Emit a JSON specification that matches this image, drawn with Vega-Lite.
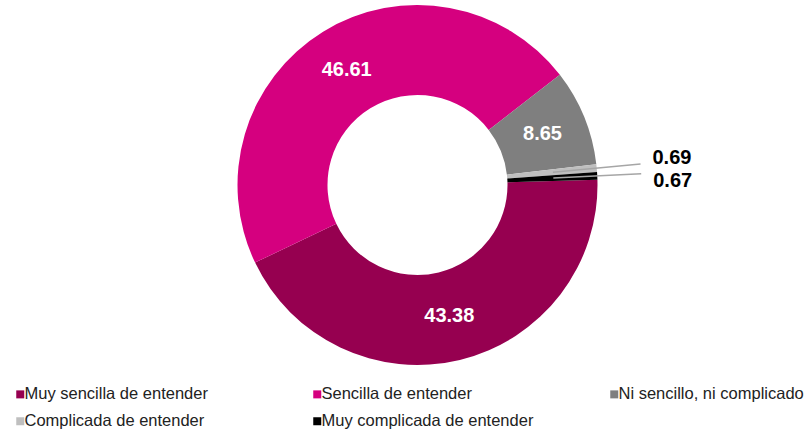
{
  "$schema": "https://vega.github.io/schema/vega-lite/v6.json",
  "width": 785,
  "height": 370,
  "autosize": "none",
  "padding": {"left": 25, "top": 0, "right": 0, "bottom": 61},
  "background": "white",
  "config": {
    "view": {"stroke": null},
    "font": "Liberation Sans",
    "legend": {
      "orient": "none",
      "direction": "horizontal",
      "legendX": -13,
      "legendY": 386,
      "columns": 3,
      "gridAlign": "all",
      "columnPadding": 72,
      "rowPadding": 10,
      "symbolType": "square",
      "symbolSize": 64,
      "symbolStrokeWidth": 0,
      "labelFont": "Liberation Sans",
      "labelFontSize": 16.5,
      "labelColor": "#222222",
      "labelOffset": -4,
      "labelLimit": 400,
      "padding": 0,
      "title": null
    }
  },
  "data": {
    "values": [
      {"cat": "Muy sencilla de entender", "valor": 43.38, "orden": 1},
      {"cat": "Sencilla de entender", "valor": 46.61, "orden": 2},
      {"cat": "Ni sencillo, ni complicado", "valor": 8.65, "orden": 3},
      {"cat": "Complicada de entender", "valor": 0.69, "orden": 4},
      {"cat": "Muy complicada de entender", "valor": 0.67, "orden": 5}
    ]
  },
  "layer": [
    {
      "mark": {"type": "arc", "innerRadius": 90, "outerRadius": 180},
      "encoding": {
        "theta": {"field": "valor", "type": "quantitative", "stack": true, "scale": {"range": [1.5411, 7.8243]}},
        "order": {"field": "orden", "type": "quantitative"},
        "color": {
          "field": "cat",
          "type": "nominal",
          "scale": {
            "domain": ["Muy sencilla de entender", "Sencilla de entender", "Ni sencillo, ni complicado", "Complicada de entender", "Muy complicada de entender"],
            "range": ["#960050", "#D5007F", "#7F7F7F", "#BFBFBF", "#000000"]
          },
          "legend": {"title": null, "direction": "horizontal", "columns": 3}
        }
      }
    },
    {
      "mark": {"type": "arc", "innerRadius": 136, "outerRadius": 224, "padAngle": 0.5, "fillOpacity": 0, "stroke": "#A6A6A6", "strokeWidth": 1.5},
      "encoding": {
        "theta": {"field": "valor", "type": "quantitative", "stack": true},
        "order": {"field": "orden", "type": "quantitative"},
        "detail": {"field": "cat", "type": "nominal"},
        "strokeOpacity": {"condition": {"test": "datum.orden > 3", "value": 1}, "value": 0}
      }
    },
    {
      "mark": {"type": "text", "radius": 135, "fontSize": 20, "fontWeight": "bold", "fill": "white", "font": "Liberation Sans"},
      "encoding": {
        "theta": {"field": "valor", "type": "quantitative", "stack": true},
        "order": {"field": "orden", "type": "quantitative"},
        "detail": {"field": "cat", "type": "nominal"},
        "text": {"condition": {"test": "datum.orden <= 3", "field": "valor", "type": "quantitative", "format": ".2f"}, "value": ""}
      }
    },
    {
      "mark": {"type": "text", "radius": 236, "dy": -5, "align": "left", "baseline": "middle", "fontSize": 20, "fontWeight": "bold", "fill": "black", "font": "Liberation Sans"},
      "encoding": {
        "theta": {"field": "valor", "type": "quantitative", "stack": true},
        "order": {"field": "orden", "type": "quantitative"},
        "detail": {"field": "cat", "type": "nominal"},
        "text": {"condition": {"test": "datum.orden == 4", "field": "valor", "type": "quantitative", "format": ".2f"}, "value": ""}
      }
    },
    {
      "mark": {"type": "text", "radius": 236, "dy": 8, "align": "left", "baseline": "middle", "fontSize": 20, "fontWeight": "bold", "fill": "black", "font": "Liberation Sans"},
      "encoding": {
        "theta": {"field": "valor", "type": "quantitative", "stack": true},
        "order": {"field": "orden", "type": "quantitative"},
        "detail": {"field": "cat", "type": "nominal"},
        "text": {"condition": {"test": "datum.orden == 5", "field": "valor", "type": "quantitative", "format": ".2f"}, "value": ""}
      }
    }
  ]
}
